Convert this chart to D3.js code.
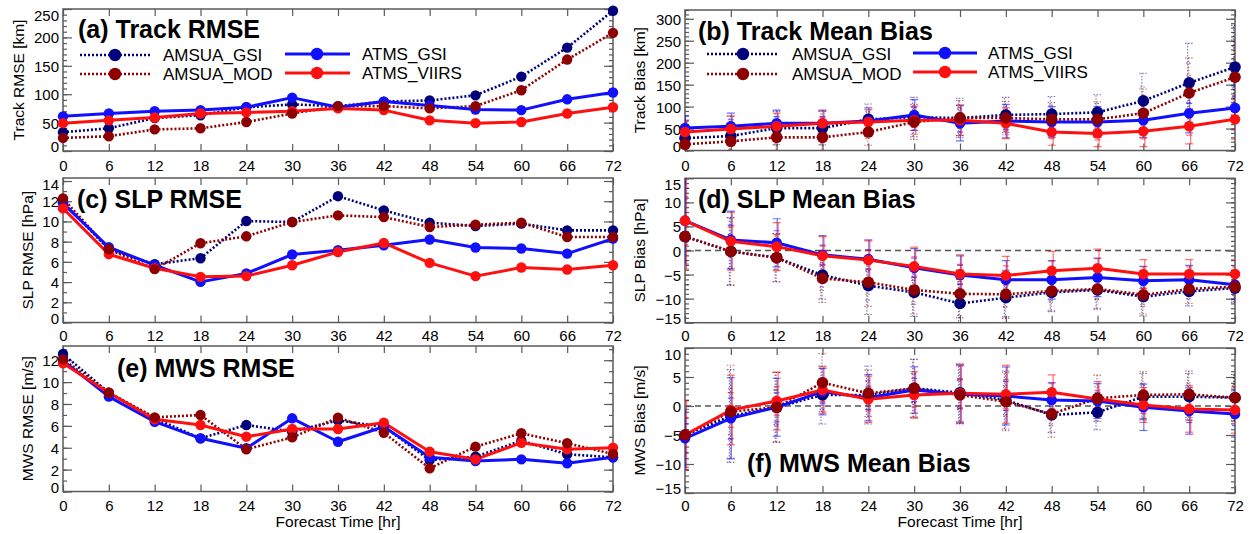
<!DOCTYPE html>
<html><head><meta charset="utf-8">
<script src="https://cdn.jsdelivr.net/npm/d3@7"></script>
<style>
body{margin:0;background:#fff;}
svg{display:block;}
text{font-family:"Liberation Sans",Arial,Helvetica,sans-serif;fill:#000;}
</style>
</head><body>
<svg id="chart" width="1251" height="534"></svg>
<script>
// ---------------- DATA ----------------
const hours = [0,6,12,18,24,30,36,42,48,54,60,66,72];
const seriesNames = ["AMSUA_GSI","AMSUA_MOD","ATMS_GSI","ATMS_VIIRS"];

// (a) Track RMSE [km]
const trackRmseAmsuaGsi  = [33,40,58,63,77,82,79,87,89,98,131,182,247];
const trackRmseAmsuaMod  = [23,26,38,40,51,66,79,79,75,79,107,161,208];
const trackRmseAtmsGsi   = [61,66,70,72,77,94,77,87,80,73,72,91,103];
const trackRmseAtmsViirs = [49,54,59,66,68,70,75,72,54,49,51,66,77];

// (b) Track Mean Bias [km] and error half-widths
const trackBiasAmsuaGsi  = [28,33,51,51,71,76,74,81,83,87,113,154,190];
const trackBiasAmsuaMod  = [14,21,30,30,42,65,74,74,71,71,85,131,167];
const trackBiasAtmsGsi   = [51,55,62,62,67,81,62,67,65,65,69,85,97];
const trackBiasAtmsViirs = [42,49,55,62,65,69,69,62,42,39,44,55,71];
const trackErrAmsuaGsi   = [30,45,38,38,35,45,45,40,40,40,63,90,95];
const trackErrAmsuaMod   = [25,40,35,35,30,40,40,38,38,40,55,80,85];
const trackErrAtmsGsi    = [28,30,30,30,30,35,40,38,35,35,40,45,50];
const trackErrAtmsViirs  = [25,30,30,28,28,32,35,35,30,30,35,40,45];

// (c) SLP RMSE [hPa]
const slpRmseAmsuaGsi  = [11.9,7.25,5.77,6.36,10.04,9.94,12.5,11.09,9.88,9.55,9.78,9.12,9.12];
const slpRmseAmsuaMod  = [12.28,7.25,5.28,7.84,8.53,9.94,10.6,10.43,9.45,9.68,9.88,8.46,8.46];
const slpRmseAtmsGsi   = [11.79,7.45,5.67,4.02,4.85,6.73,7.15,7.64,8.21,7.42,7.32,6.82,8.3];
const slpRmseAtmsViirs = [11.29,6.76,5.37,4.52,4.59,5.67,6.98,7.87,5.9,4.59,5.44,5.25,5.67];

// (d) SLP Mean Bias [hPa] and error half-widths
const slpBiasAmsuaGsi  = [2.9,-0.2,-1.5,-5.1,-7.3,-8.7,-11.0,-9.8,-8.7,-8.2,-9.6,-8.5,-7.8];
const slpBiasAmsuaMod  = [2.9,-0.2,-1.5,-5.8,-6.6,-8.2,-9.0,-9.1,-8.4,-8.0,-9.2,-8.0,-7.5];
const slpBiasAtmsGsi   = [6.2,2.2,1.6,-0.9,-1.8,-3.6,-5.1,-6.1,-6.1,-5.6,-6.3,-6.1,-7.1];
const slpBiasAtmsViirs = [6.2,1.9,0.8,-1.1,-2.0,-3.3,-4.9,-5.2,-4.2,-3.7,-4.9,-4.9,-4.9];
const slpErrAmsuaGsi   = [10,7,5,5,6,5,5,4,4,4,4,3,3];
const slpErrAmsuaMod   = [10,7,5,5,5,5,5,5,4,4,4,3,3];
const slpErrAtmsGsi    = [9,6,5,4,4,4,4,4,4,4,3,3,3];
const slpErrAtmsViirs  = [10,6,5,4,4,4,4,4,4,4,3,3,3];

// (e) MWS RMSE [m/s]
const mwsRmseAmsuaGsi  = [12.57,9.03,6.69,4.86,6.08,5.47,6.5,5.92,2.88,3.18,4.64,3.4,3.13];
const mwsRmseAmsuaMod  = [12.08,9.03,6.78,6.99,3.86,4.95,6.75,5.37,2.12,4.1,5.32,4.41,3.43];
const mwsRmseAtmsGsi   = [11.96,8.67,6.38,4.86,3.95,6.69,4.55,5.92,3.13,2.79,2.94,2.58,3.13];
const mwsRmseAtmsViirs = [11.72,9.03,6.6,6.08,5.01,5.71,5.71,6.29,3.64,2.94,4.46,3.86,4.0];

// (f) MWS Mean Bias [m/s] and error half-widths
const mwsBiasAmsuaGsi  = [-5.0,-1.72,-0.22,1.9,1.9,3.05,2.29,1.03,-1.55,-1.09,1.6,1.6,1.43];
const mwsBiasAmsuaMod  = [-5.0,-0.98,-0.22,4.02,2.19,3.05,1.9,0.74,-1.38,1.33,1.9,2.02,1.43];
const mwsBiasAtmsGsi   = [-5.57,-2.12,-0.22,2.47,1.43,2.76,2.02,1.72,1.03,0.86,-0.22,-0.86,-1.38];
const mwsBiasAtmsViirs = [-5.0,-0.69,0.86,2.76,1.16,1.9,2.19,2.02,2.36,1.21,0.17,-0.52,-0.69];
const mwsErrAmsuaGsi   = [6,8,6,5,5,5,5,5,3,3,4,4,4];
const mwsErrAmsuaMod   = [6,8,6,5,4,5,5,5,4,4,4,4,4];
const mwsErrAtmsGsi    = [5,7,5,4,4,4,5,5,3,3,4,4,4];
const mwsErrAtmsViirs  = [6,6,5,4,4,4,5,5,3,3,3,4,4];

const xTickLabels = hours.map(String);

// ---------------- STYLE / LAYOUT ----------------
const colors = {AMSUA_GSI:"#00007c", AMSUA_MOD:"#8e0000", ATMS_GSI:"#1010ff", ATMS_VIIRS:"#ff1010"};
const isDotted = {AMSUA_GSI:true, AMSUA_MOD:true, ATMS_GSI:false, ATMS_VIIRS:false};
const frameColor = "#5a5a5a";

const panels = [
  {title:"(a) Track RMSE", ylabel:"Track RMSE [km]", left:63, right:613, top:9, bottom:151,
   domain:[0,250], major:d3.range(0,251,50), minor:d3.range(0,251,10),
   values:[trackRmseAmsuaGsi,trackRmseAmsuaMod,trackRmseAtmsGsi,trackRmseAtmsViirs], errs:null, zero:false,
   titleX:78, titleY:38, ylabX:18, xlabY:171, xtitle:false,
   legend:{cols:[{x1:80,x2:150,mx:115,tx:163,rows:[55,74],names:["AMSUA_GSI","AMSUA_MOD"]},
                 {x1:285,x2:350,mx:317,tx:362,rows:[54,73],names:["ATMS_GSI","ATMS_VIIRS"]}]}},
  {title:"(b) Track Mean Bias", ylabel:"Track Bias [km]", left:685, right:1235, top:10, bottom:150.5,
   domain:[0,320], major:d3.range(0,301,50), minor:d3.range(0,321,10),
   values:[trackBiasAmsuaGsi,trackBiasAmsuaMod,trackBiasAtmsGsi,trackBiasAtmsViirs],
   errs:[trackErrAmsuaGsi,trackErrAmsuaMod,trackErrAtmsGsi,trackErrAtmsViirs], zero:false,
   titleX:698, titleY:40, ylabX:639, xlabY:171, xtitle:false,
   legend:{cols:[{x1:707,x2:777,mx:743,tx:792,rows:[54,74],names:["AMSUA_GSI","AMSUA_MOD"]},
                 {x1:913,x2:977,mx:945,tx:988,rows:[53,72],names:["ATMS_GSI","ATMS_VIIRS"]}]}},
  {title:"(c) SLP RMSE", ylabel:"SLP RMSE [hPa]", left:63, right:613, top:178, bottom:322.5,
   domain:[0,14.3], major:d3.range(0,15,2), minor:d3.range(0,15,1),
   values:[slpRmseAmsuaGsi,slpRmseAmsuaMod,slpRmseAtmsGsi,slpRmseAtmsViirs], errs:null, zero:false,
   titleX:77, titleY:208, ylabX:27, xlabY:341.5, xtitle:false, legend:null},
  {title:"(d) SLP Mean Bias", ylabel:"SLP Bias [hPa]", left:685, right:1235, top:178.3, bottom:322.7,
   domain:[-15,15], major:d3.range(-15,16,5), minor:d3.range(-15,16,1),
   values:[slpBiasAmsuaGsi,slpBiasAmsuaMod,slpBiasAtmsGsi,slpBiasAtmsViirs],
   errs:[slpErrAmsuaGsi,slpErrAmsuaMod,slpErrAtmsGsi,slpErrAtmsViirs], zero:true,
   titleX:698, titleY:208, ylabX:639, xlabY:341.5, xtitle:false, legend:null},
  {title:"(e) MWS RMSE", ylabel:"MWS RMSE [m/s]", left:63, right:613, top:346, bottom:491.5,
   domain:[0,13.3], major:d3.range(0,13,2), minor:d3.range(0,14,1),
   values:[mwsRmseAmsuaGsi,mwsRmseAmsuaMod,mwsRmseAtmsGsi,mwsRmseAtmsViirs], errs:null, zero:false,
   titleX:117, titleY:377, ylabX:27, xlabY:511.5, xtitle:true, legend:null},
  {title:"(f) MWS Mean Bias", ylabel:"MWS Bias [m/s]", left:685, right:1235, top:348, bottom:493,
   domain:[-15,10], major:d3.range(-15,11,5), minor:d3.range(-15,11,1),
   values:[mwsBiasAmsuaGsi,mwsBiasAmsuaMod,mwsBiasAtmsGsi,mwsBiasAtmsViirs],
   errs:[mwsErrAmsuaGsi,mwsErrAmsuaMod,mwsErrAtmsGsi,mwsErrAtmsViirs], zero:true,
   titleX:747, titleY:472, ylabX:639, xlabY:511.5, xtitle:true, legend:null}
];

const svg = d3.select("#chart");
const fmt = d3.format("d");
const lineOrder = [0,1,2,3];
const markerOrder = [0,2,3,1];

panels.forEach((p, pi) => {
  const x = d3.scaleLinear().domain([0,72]).range([p.left, p.right]);
  const y = d3.scaleLinear().domain(p.domain).range([p.bottom, p.top]);
  const g = svg.append("g");

  const clipId = "clip" + pi;
  g.append("clipPath").attr("id", clipId).append("rect")
    .attr("x", p.left).attr("y", p.top).attr("width", p.right - p.left).attr("height", p.bottom - p.top);

  if (p.zero) {
    g.append("line").attr("x1", p.left).attr("x2", p.right).attr("y1", y(0)).attr("y2", y(0))
      .attr("stroke", "#555").attr("stroke-width", 1.3).attr("stroke-dasharray", "6,4");
  }

  const styleAxis = sel => {
    sel.select(".domain").remove();
    sel.selectAll("line").attr("stroke", frameColor).attr("stroke-width", 1.2);
  };
  g.append("g").attr("transform", `translate(${p.left},0)`)
    .call(d3.axisLeft(y).tickValues(p.minor).tickSize(-4).tickFormat("")).call(styleAxis);
  const la = g.append("g").attr("transform", `translate(${p.left},0)`)
    .call(d3.axisLeft(y).tickValues(p.major).tickSize(-9).tickPadding(4).tickFormat(fmt)).call(styleAxis);
  la.selectAll("text").attr("font-size", 15).attr("font-family", '"Liberation Sans",Arial,sans-serif')
    .attr("fill", "#000")
    .attr("dy", null).attr("dominant-baseline", "central")
    .attr("y", d => Math.max(p.top + 5.5, Math.min(p.bottom - 5, y(d))) - y(d));
  g.append("g").attr("transform", `translate(${p.right},0)`)
    .call(d3.axisRight(y).tickValues(p.minor).tickSize(-4).tickFormat("")).call(styleAxis);
  g.append("g").attr("transform", `translate(${p.right},0)`)
    .call(d3.axisRight(y).tickValues(p.major).tickSize(-9).tickFormat("")).call(styleAxis);
  g.append("g").attr("transform", `translate(0,${p.top})`)
    .call(d3.axisTop(x).tickValues(hours).tickSize(-7).tickFormat("")).call(styleAxis);
  const ba = g.append("g").attr("transform", `translate(0,${p.bottom})`)
    .call(d3.axisBottom(x).tickValues(hours).tickSize(-7).tickPadding(p.xlabY - p.bottom - 10.7)
      .tickFormat((d, i) => xTickLabels[i])).call(styleAxis);
  ba.selectAll("text").attr("font-size", 15).attr("fill", "#000")
    .attr("font-family", '"Liberation Sans",Arial,sans-serif');

  g.append("rect").attr("x", p.left).attr("y", p.top).attr("width", p.right - p.left)
    .attr("height", p.bottom - p.top).attr("fill", "none").attr("stroke", frameColor).attr("stroke-width", 1.5);

  const plot = g.append("g").attr("clip-path", `url(#${clipId})`);

  if (p.errs) {
    lineOrder.forEach(si => {
      const name = seriesNames[si];
      const vals = p.values[si], errs = p.errs[si];
      const eg = plot.append("g").attr("stroke", colors[name])
        .attr("stroke-width", isDotted[name] ? 1.1 : 1.2)
        .attr("stroke-opacity", isDotted[name] ? 0.55 : 0.6);
      const dash = isDotted[name] ? "1.5,1.5" : null;
      hours.forEach((h, i) => {
        const lo = vals[i] - errs[i], hi = vals[i] + errs[i];
        const off = (si - 1.5) * 1.0;
        eg.append("line").attr("x1", x(h) + off).attr("x2", x(h) + off)
          .attr("y1", y(lo)).attr("y2", y(hi)).attr("stroke-dasharray", dash);
        [lo, hi, vals[i] - errs[i] * 0.5, vals[i] + errs[i] * 0.5].forEach((v, k) => {
          eg.append("line").attr("x1", x(h) - (k < 2 ? 4 : 3)).attr("x2", x(h) + (k < 2 ? 4 : 3))
            .attr("y1", y(v)).attr("y2", y(v)).attr("stroke-dasharray", dash);
        });
      });
    });
  }

  lineOrder.forEach(si => {
    const name = seriesNames[si];
    const vals = p.values[si];
    const line = d3.line().x((d, i) => x(hours[i])).y(d => y(d));
    plot.append("path").datum(vals).attr("d", line).attr("fill", "none")
      .attr("stroke", colors[name])
      .attr("stroke-width", isDotted[name] ? 2.6 : 3)
      .attr("stroke-dasharray", isDotted[name] ? "2,2" : null)
      .attr("stroke-linejoin", "round");
  });
  markerOrder.forEach(si => {
    const name = seriesNames[si];
    const vals = p.values[si];
    const r = p.errs ? (isDotted[name] ? 5.8 : 5.3) : 5.2;
    g.append("g").selectAll("circle").data(vals).join("circle")
      .attr("cx", (d, i) => x(hours[i])).attr("cy", d => y(d)).attr("r", r)
      .attr("fill", colors[name]);
  });

  g.append("text").attr("x", p.titleX).attr("y", p.titleY).attr("font-size", 25)
    .attr("font-weight", "bold").text(p.title);

  g.append("text").attr("transform", `translate(${p.ylabX},${(p.top + p.bottom) / 2}) rotate(-90)`)
    .attr("text-anchor", "middle").attr("dominant-baseline", "central")
    .attr("font-size", 15.5).text(p.ylabel);

  if (p.xtitle) {
    g.append("text").attr("x", (p.left + p.right) / 2).attr("y", 527)
      .attr("text-anchor", "middle").attr("font-size", 15.5).text("Forecast Time [hr]");
  }

  if (p.legend) {
    p.legend.cols.forEach(c => {
      c.names.forEach((name, k) => {
        const yy = c.rows[k];
        g.append("line").attr("x1", c.x1).attr("x2", c.x2).attr("y1", yy).attr("y2", yy)
          .attr("stroke", colors[name]).attr("stroke-width", isDotted[name] ? 2.6 : 3)
          .attr("stroke-dasharray", isDotted[name] ? "2,2" : null);
        g.append("circle").attr("cx", c.mx).attr("cy", yy).attr("r", 6.2).attr("fill", colors[name]);
        g.append("text").attr("x", c.tx).attr("y", yy).attr("dominant-baseline", "central")
          .attr("font-size", 17).text(name);
      });
    });
  }
});
</script>
</body></html>
